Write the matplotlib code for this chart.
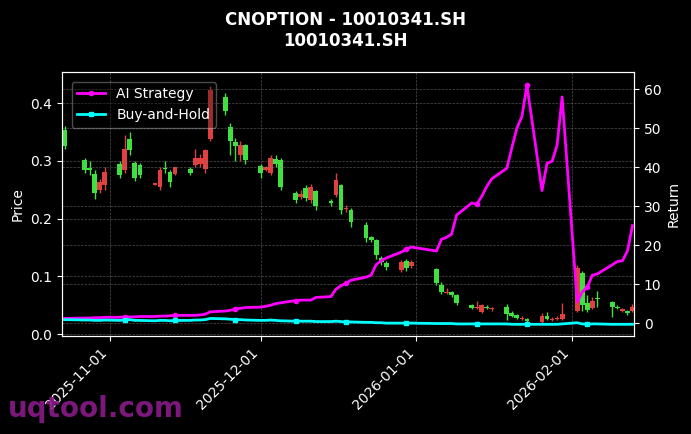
import pandas as pd
import matplotlib
matplotlib.use("Agg")
import matplotlib.pyplot as plt
import matplotlib.dates as mdates

# trading days shown in the chart
dates = pd.bdate_range("2025-10-23", "2026-02-13")
dates = dates.drop(pd.to_datetime(["2025-10-24", "2026-01-01", "2026-01-02"]))

opens = [.353, .301, .287, .277, .249, .258, .295, .284, .338, .296, .293,
         .259, .255, .288, .281, .277, .286, .293, .295, .286, .338,
         .411, .359, .332, .310, .327, .291, .284, .279, .303, .301,
         .244, .237, .253, .232, .248, .229, .241, .258, .216, .215,
         .190, .168, .163, .132, .123, .111, .126, .118,
         .113, .085, .072, .073, .068, .050, .045, .038, .047, .043,
         .047, .037, .033, .027, .026, .021, .031, .025, .026, .026,
         .040, .106, .054, .046, .062, .055, .046, .041, .040, .040]
closes = [.326, .284, .285, .244, .263, .281, .275, .320, .319, .270, .275,
          .261, .284, .286, .263, .289, .280, .305, .305, .319, .423,
          .386, .334, .326, .327, .301, .279, .290, .305, .294, .255,
          .232, .243, .236, .255, .222, .228, .267, .215, .219, .194,
          .166, .163, .137, .125, .116, .125, .114, .125,
          .088, .073, .074, .068, .054, .046, .047, .050, .046, .045,
          .035, .032, .028, .029, .023, .031, .026, .027, .028, .035,
          .114, .050, .042, .057, .061, .047, .045, .043, .036, .048]
highs = [.360, .305, .300, .285, .268, .290, .300, .345, .350, .300, .296,
         .262, .290, .300, .284, .290, .290, .320, .312, .320, .430,
         .418, .365, .340, .335, .330, .295, .292, .310, .310, .305,
         .248, .250, .258, .260, .250, .234, .280, .260, .224, .218,
         .195, .170, .165, .135, .126, .128, .130, .128,
         .115, .090, .080, .075, .070, .052, .057, .052, .050, .047,
         .052, .040, .035, .032, .028, .036, .038, .030, .032, .054,
         .120, .110, .068, .065, .075, .058, .050, .045, .042, .052]
lows = [.320, .280, .275, .235, .245, .250, .270, .280, .310, .265, .270,
        .258, .250, .280, .255, .275, .275, .290, .290, .280, .335,
        .380, .310, .300, .300, .295, .270, .282, .275, .290, .250,
        .228, .235, .230, .228, .215, .222, .238, .208, .212, .185,
        .160, .160, .130, .120, .112, .108, .110, .115,
        .085, .070, .070, .065, .050, .044, .043, .036, .043, .040,
        .025, .030, .026, .025, .021, .020, .024, .023, .024, .024,
        .038, .040, .038, .044, .048, .030, .043, .039, .034, .038]

ai_return = [1.2, 1.3, 1.3, 1.4, 1.4, 1.5, 1.5, 1.6, 1.6, 1.6, 1.7,
             1.7, 1.8, 1.8, 1.9, 2.0, 2.0, 2.0, 2.1, 2.3, 2.9,
             3.1, 3.3, 3.6, 3.8, 4.0, 4.1, 4.3, 4.6, 5.0, 5.2,
             5.8, 5.9, 5.9, 5.9, 6.6, 6.8, 8.7, 9.6, 10.2, 11.0,
             11.8, 12.3, 15.0, 16.0, 16.7, 18.2, 19.0, 19.5,
             18.5, 21.5, 22.0, 22.8, 27.7, 30.8, 30.5, 32.5, 35.0, 37.0,
             39.7, 45.0, 50.0, 53.0, 61.0, 34.0, 41.0, 41.5, 45.6, 58.0,
             5.4, 8.0, 9.2, 12.3, 12.6, 15.0, 15.8, 16.0, 18.5, 25.0]
bh_return = [0.9, 0.8, 0.8, 0.7, 0.7, 0.8, 0.7, 0.8, 0.9, 0.7, 0.7,
             0.6, 0.7, 0.7, 0.6, 0.7, 0.7, 0.8, 0.8, 0.9, 1.2,
             1.1, 1.0, 0.9, 0.9, 0.8, 0.7, 0.7, 0.8, 0.7, 0.6,
             0.5, 0.5, 0.5, 0.5, 0.4, 0.4, 0.5, 0.4, 0.3, 0.3,
             0.2, 0.2, 0.1, 0.1, 0.0, 0.0, 0.0, 0.0,
             -0.1, -0.1, -0.1, -0.1, -0.2, -0.2, -0.2, -0.2, -0.2, -0.2,
             -0.2, -0.3, -0.3, -0.3, -0.3, -0.3, -0.3, -0.3, -0.3, -0.2,
             0.1, -0.2, -0.3, -0.2, -0.2, -0.3, -0.3, -0.3, -0.3, -0.3]

fig = plt.figure(figsize=(6.91, 4.34), dpi=100, facecolor="black")
ax = fig.add_axes([62 / 691, 1 - 336 / 434, 572 / 691, 264 / 434])
ax.set_facecolor("black")
ax2 = ax.twinx()

x = mdates.date2num(dates)
for xi, o, h, l, c in zip(x, opens, highs, lows, closes):
    col = "#e04040" if c >= o else "#40e040"
    ax.vlines(xi, l, h, color=col, linewidth=1)
    ax.bar(xi, max(abs(c - o), 0.002), bottom=min(o, c), width=0.95, color=col)

ax2.plot(x, ai_return, color="#ff00ff", linewidth=2, marker="o", markersize=3,
         markevery=(7, 8), label="AI Strategy")
ax2.plot(x, bh_return, color="#00ffff", linewidth=2, marker="s", markersize=3,
         markevery=(7, 8), label="Buy-and-Hold")

ax.set_xlim(mdates.datestr2num("2025-10-22") + 0.5, mdates.datestr2num("2026-02-13") + 0.3)
ax.set_ylim(-0.003, 0.454)
ax2.set_ylim(-3.3, 64.4)
ax.xaxis.set_major_locator(mdates.MonthLocator())
ax.xaxis.set_major_formatter(mdates.DateFormatter("%Y-%m-%d"))
plt.setp(ax.get_xticklabels(), rotation=45, ha="right")

for a in (ax, ax2):
    a.tick_params(colors="white")
    for s in a.spines.values():
        s.set_color("white")
ax.grid(True, color="gray", linestyle="--", linewidth=0.5, alpha=0.6)
ax2.grid(True, axis="y", color="gray", linestyle="--", linewidth=0.5, alpha=0.6)
ax.set_ylabel("Price", color="white")
ax2.set_ylabel("Return", color="white")

leg = ax2.legend(loc="upper left", facecolor="black", edgecolor="white",
                 labelcolor="white", framealpha=0.3, borderaxespad=0.7)
fig.suptitle("CNOPTION - 10010341.SH\n10010341.SH", color="white",
             fontweight="bold", fontsize=12, y=0.975)
fig.text(0.012, 0.04, "uqtool.com", color="#8b1a8b", fontsize=20,
         fontweight="bold", alpha=0.9)

fig.savefig("out.png", dpi=100, facecolor="black")
